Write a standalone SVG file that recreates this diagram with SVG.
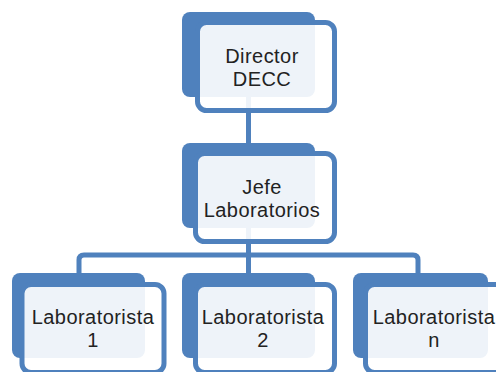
<svg xmlns="http://www.w3.org/2000/svg" width="496" height="372" viewBox="0 0 496 372">
<style>
.back{fill:#4F81BD}
.front{fill:#FFFFFF;fill-opacity:0.9;stroke:#4F81BD;stroke-width:5}
.conn{fill:none;stroke:#4F81BD;stroke-width:5}
text{font-family:"Liberation Sans",Arial,sans-serif;font-size:20px;letter-spacing:0.45px;fill:#222;text-anchor:middle}
</style>
<rect width="496" height="372" fill="#FFFFFF"/>
<g id="connectors">
<path class="conn" d="M248.5 90 V160"/>
<path class="conn" d="M248.5 220 V290"/>
<path class="conn" d="M79 290 V260 Q79 255 84 255 H413 Q418 255 418 260 V290"/>
</g>
<g id="director">
<rect class="back" x="182" y="12" width="133" height="85" rx="8"/>
<rect class="front" x="197.5" y="22.5" width="137" height="88" rx="9"/>
<text x="262" y="63">Director</text>
<text x="262" y="86">DECC</text>
</g>
<g id="jefe">
<rect class="back" x="182" y="143" width="133" height="85" rx="8"/>
<rect class="front" x="195.5" y="153.5" width="139" height="88" rx="9"/>
<text x="262" y="194">Jefe</text>
<text x="262" y="217">Laboratorios</text>
</g>
<g id="lab1">
<rect class="back" x="12" y="273" width="133" height="85" rx="8"/>
<rect class="front" x="22" y="284.5" width="142" height="88" rx="9"/>
<text x="93" y="324">Laboratorista</text>
<text x="93" y="347">1</text>
</g>
<g id="lab2">
<rect class="back" x="182" y="273" width="133" height="85" rx="8"/>
<rect class="front" x="195.5" y="284.5" width="139" height="88" rx="9"/>
<text x="263" y="324">Laboratorista</text>
<text x="263" y="347">2</text>
</g>
<g id="labn">
<rect class="back" x="353" y="273" width="135" height="85" rx="8"/>
<rect class="front" x="365.5" y="284.5" width="139" height="88" rx="9"/>
<text x="434" y="324">Laboratorista</text>
<text x="434" y="347">n</text>
</g>
</svg>
